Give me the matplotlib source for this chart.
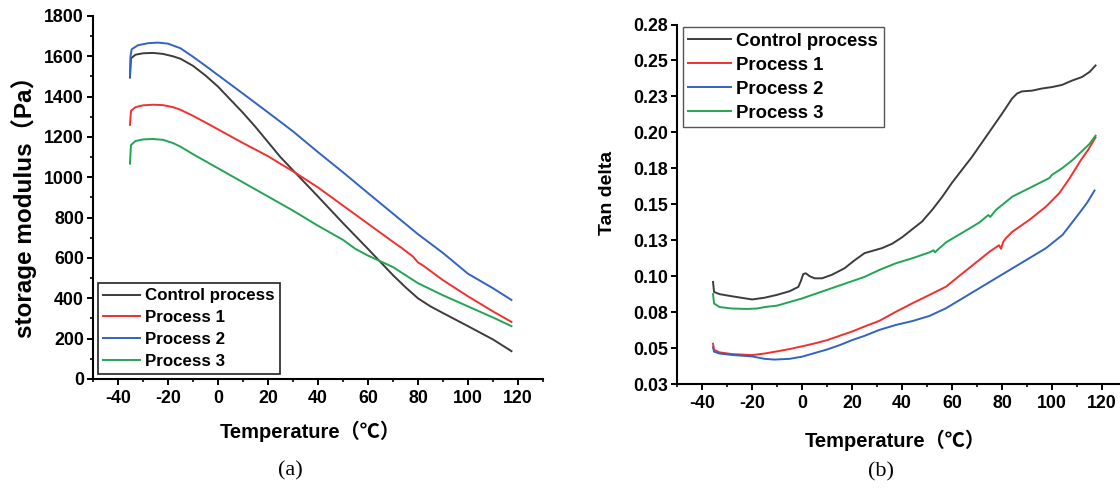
import matplotlib
matplotlib.use('Agg')
import matplotlib.pyplot as plt
from matplotlib.ticker import MultipleLocator

plt.rcParams['font.family'] = ['Liberation Sans', 'Noto Sans CJK SC', 'DejaVu Sans']
plt.rcParams['font.weight'] = 'bold'
plt.rcParams['axes.unicode_minus'] = False

series_names = ['Control process', 'Process 1', 'Process 2', 'Process 3']
series_colors = ['#3c3c3c', '#f2302e', '#3262c4', '#22a455']

# storage modulus (Pa) vs temperature (C)
gm_t_ctrl = [-35.2, -34.8, -33, -30, -26, -22, -18, -15, -10, -5, 0, 5, 10, 15, 20, 25, 30,
             40, 50, 60, 70, 75, 80, 85, 90, 100, 110, 117.4]
gm_ctrl = [1495, 1590, 1608, 1615, 1617, 1612, 1600, 1588, 1553, 1505, 1450, 1385, 1320, 1250,
           1175, 1100, 1035, 905, 773, 645, 515, 455, 400, 360, 327, 262, 196, 138]
gm_t_p1 = [-35.2, -34.8, -33, -30, -26, -22, -18, -15, -10, -5, 0, 10, 20, 25, 30, 40, 50, 60,
           70, 74, 78, 80, 82, 90, 100, 110, 117.4]
gm_p1 = [1260, 1330, 1348, 1357, 1360, 1358, 1348, 1335, 1305, 1272, 1238, 1170, 1105, 1067,
         1030, 950, 860, 770, 680, 645, 607, 578, 563, 490, 410, 335, 283]
gm_t_p2 = [-35.2, -35, -34.5, -32, -28, -24, -20, -15, -10, -5, 0, 10, 20, 30, 40, 50, 60, 70,
           80, 90, 100, 110, 117.4]
gm_p2 = [1500, 1600, 1635, 1655, 1665, 1668, 1663, 1640, 1598, 1553, 1507, 1415, 1322, 1228,
         1125, 1025, 922, 820, 718, 625, 522, 450, 392]
gm_t_p3 = [-35.2, -34.8, -33, -30, -26, -22, -18, -15, -10, -5, 0, 10, 20, 30, 40, 50, 55, 60,
           70, 80, 90, 100, 110, 117.4]
gm_p3 = [1068, 1160, 1180, 1188, 1190, 1186, 1170, 1152, 1115, 1080, 1045, 975, 905, 835, 760,
         690, 645, 612, 555, 475, 415, 360, 305, 262]

# tan delta vs temperature (C)
td_t_ctrl = [-35.6, -35.2, -33, -28, -20, -15, -10, -5, -1.5, -0.5, 0.5, 1.5, 3, 5, 8, 12, 17,
             21, 23, 25, 28, 32, 36, 40, 44, 48, 52, 56, 60, 64, 68, 72, 76, 80, 84, 86, 88, 92,
             96, 100, 104, 108, 112, 115, 117.4]
td_ctrl = [0.096, 0.089, 0.0875, 0.086, 0.0838, 0.085, 0.087, 0.0895, 0.0925, 0.0965, 0.1015,
           0.102, 0.100, 0.0985, 0.0985, 0.101, 0.1055, 0.111, 0.1135, 0.116, 0.1175, 0.1195,
           0.1225, 0.127, 0.1325, 0.138, 0.146, 0.155, 0.165, 0.174, 0.183, 0.193, 0.203, 0.213,
           0.2235, 0.227, 0.2285, 0.229, 0.2305, 0.2315, 0.233, 0.236, 0.2385, 0.242, 0.2465]
td_t_p1 = [-35.6, -35.2, -33, -28, -20, -15, -10, -5, 0, 5, 10, 15, 20, 25, 31, 37.6, 44.2,
           50.9, 57.6, 64.2, 70.9, 75, 78.8, 79.6, 80.5, 81.6, 84.2, 90.9, 97.6, 102.9, 107,
           111.6, 114.5, 117.4]
td_p1 = [0.053, 0.0488, 0.047, 0.0458, 0.0451, 0.0462, 0.0477, 0.0493, 0.0512, 0.0532, 0.0555,
         0.0585, 0.0615, 0.065, 0.069, 0.0753, 0.0812, 0.0869, 0.0927, 0.102, 0.1113, 0.117,
         0.1215, 0.119, 0.124, 0.1265, 0.131, 0.1391, 0.1484, 0.1577, 0.168, 0.1809, 0.188, 0.1965]
td_t_p2 = [-35.6, -35.2, -33, -28, -20, -15, -11, -5, 0, 5, 10, 15, 20, 25, 30.9, 37.6, 44.2,
           50.9, 57.6, 64.2, 70.9, 77.6, 84.2, 90.9, 97.6, 104.2, 110.9, 114, 117]
td_p2 = [0.0505, 0.0475, 0.0462, 0.0452, 0.0442, 0.0425, 0.042, 0.0425, 0.044, 0.0465, 0.049,
         0.052, 0.0555, 0.0585, 0.0626, 0.0661, 0.0688, 0.0723, 0.0777, 0.0846, 0.0916, 0.0986,
         0.1055, 0.1125, 0.1195, 0.1287, 0.1438, 0.151, 0.1596]
td_t_p3 = [-35.6, -35.2, -33, -28, -22, -18, -15, -10, -5, 0, 5, 10, 15, 20, 25, 30.9, 37.6,
           44.2, 50.9, 52.6, 53.2, 54, 57.6, 64.2, 70.9, 74.5, 75.3, 77.6, 84.2, 90.9, 98.9, 100,
           104, 108.3, 112, 115, 117.4]
td_p3 = [0.0875, 0.081, 0.0785, 0.0775, 0.0772, 0.0775, 0.0785, 0.0795, 0.082, 0.0845, 0.0875,
         0.0905, 0.0935, 0.0965, 0.0995, 0.1043, 0.109, 0.1125, 0.1165, 0.118, 0.1165, 0.118,
         0.1235, 0.1303, 0.1373, 0.1425, 0.1412, 0.1461, 0.1554, 0.1612, 0.1682, 0.1705, 0.175,
         0.1809, 0.187, 0.192, 0.1977]

td_ticks = [0.025, 0.05, 0.075, 0.1, 0.125, 0.15, 0.175, 0.2, 0.225, 0.25, 0.275]
td_ticklabels = ['0.03', '0.05', '0.08', '0.10', '0.13', '0.15', '0.18', '0.20', '0.23',
                 '0.25', '0.28']


def style_axes(ax):
    for side in ('top', 'right'):
        ax.spines[side].set_visible(False)
    for side in ('left', 'bottom'):
        ax.spines[side].set_linewidth(1.5)
    ax.tick_params(which='major', direction='out', length=4.5, width=1.4, labelsize=12.8)
    ax.tick_params(which='minor', direction='out', length=2.5, width=1.2)
    ax.tick_params(axis='x', pad=3.5)
    ax.tick_params(axis='y', pad=2.0)
    ax.set_xlim(-50, 130)
    ax.xaxis.set_major_locator(MultipleLocator(20))
    ax.xaxis.set_minor_locator(MultipleLocator(10))


fig = plt.figure(figsize=(11.2, 4.92), dpi=100)
ax1 = fig.add_axes([0.0830, 0.2297, 0.4018, 0.7378])
ax2 = fig.add_axes([0.6045, 0.2195, 0.4018, 0.7307])

# (a) storage modulus
gm_data = [(gm_t_ctrl, gm_ctrl), (gm_t_p1, gm_p1), (gm_t_p2, gm_p2), (gm_t_p3, gm_p3)]
for (t, v), name, c in zip(gm_data, series_names, series_colors):
    ax1.plot(t, v, color=c, lw=1.4, label=name)
style_axes(ax1)
ax1.set_ylim(0, 1800)
ax1.yaxis.set_major_locator(MultipleLocator(200))
ax1.yaxis.set_minor_locator(MultipleLocator(100))
ax1.set_xlabel('Temperature（℃）', fontsize=14.5, fontweight='bold')
ax1.xaxis.set_label_coords(0.482, -0.115)
ax1.set_ylabel('storage modulus（Pa）', fontsize=17.5, fontweight='bold')
ax1.yaxis.set_label_coords(-0.125, 0.49)
leg1 = ax1.legend(loc='lower left', bbox_to_anchor=(0.011, 0.014), borderaxespad=0,
                  fontsize=12.2, handlelength=2.2, handletextpad=0.3, labelspacing=0.4,
                  borderpad=0.3, fancybox=False, framealpha=1)
leg1.get_frame().set_edgecolor('#222222')
leg1.get_frame().set_linewidth(1.2)

# (b) tan delta
td_data = [(td_t_ctrl, td_ctrl), (td_t_p1, td_p1), (td_t_p2, td_p2), (td_t_p3, td_p3)]
for (t, v), name, c in zip(td_data, series_names, series_colors):
    ax2.plot(t, v, color=c, lw=1.4, label=name)
style_axes(ax2)
ax2.set_ylim(0.025, 0.275)
ax2.set_yticks(td_ticks)
ax2.set_yticklabels(td_ticklabels)
ax2.set_xlabel('Temperature（℃）', fontsize=14.5, fontweight='bold')
ax2.xaxis.set_label_coords(0.484, -0.128)
ax2.set_ylabel('Tan delta', fontsize=14, fontweight='bold')
ax2.yaxis.set_label_coords(-0.135, 0.531)
leg2 = ax2.legend(loc='upper left', bbox_to_anchor=(0.013, 0.993), borderaxespad=0,
                  fontsize=13.3, handlelength=2.3, handletextpad=0.3, labelspacing=0.38,
                  borderpad=0.3, fancybox=False, framealpha=1)
leg2.get_frame().set_edgecolor('#555555')
leg2.get_frame().set_linewidth(1.0)

fig.text(0.259, 1 - 471 / 492, '(a)', family='Liberation Serif', fontweight='normal',
         fontsize=16, ha='center', va='center')
fig.text(0.787, 1 - 472 / 492, '(b)', family='Liberation Serif', fontweight='normal',
         fontsize=16, ha='center', va='center')

fig.savefig('out.png', dpi=100)
